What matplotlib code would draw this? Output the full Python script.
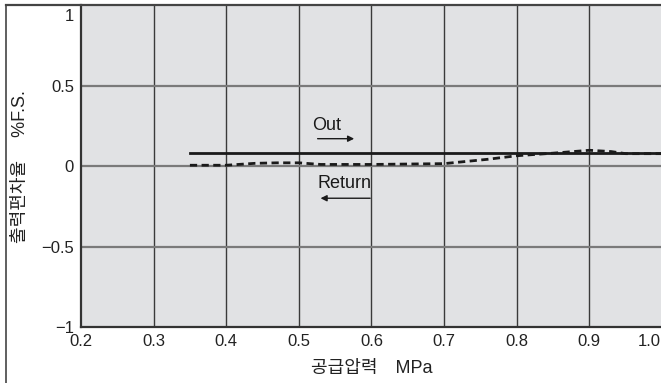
import matplotlib
matplotlib.use("Agg")
import matplotlib.pyplot as plt
import matplotlib.transforms as mtransforms
from matplotlib.lines import Line2D

plt.rcParams['font.family'] = ['Liberation Sans', 'Noto Sans CJK KR', 'DejaVu Sans']

# data
out_x = [0.35, 1.0]
out_y = [0.08, 0.08]
ret_x = [0.35, 0.40, 0.44, 0.47, 0.50, 0.53, 0.60, 0.70, 0.76, 0.80, 0.85, 0.90, 0.93, 0.95, 1.00]
ret_y = [0.005, 0.005, 0.017, 0.02, 0.02, 0.01, 0.01, 0.015, 0.042, 0.064, 0.08, 0.098, 0.09, 0.077, 0.077]
xticks = [0.2, 0.3, 0.4, 0.5, 0.6, 0.7, 0.8, 0.9, 1.0]
xlabels = ['0.2', '0.3', '0.4', '0.5', '0.6', '0.7', '0.8', '0.9', '1.0']
yticks = [-1, -0.5, 0, 0.5, 1]
ylabels = ['\u22121', '\u22120.5', '0', '0.5', '1']

fig = plt.figure(figsize=(6.61, 3.83), dpi=100)
ax = fig.add_axes([0.1225, 0.1462, 0.8790, 0.8405])
ax.set_facecolor('#e1e2e4')
ax.set_xlim(0.2, 1.0)
ax.set_ylim(-1, 1)

# grid
for x in xticks[1:]:
    ax.axvline(x, color='#3a3a3a', lw=1.0, zorder=1)
for y in [-0.5, 0, 0.5]:
    ax.axhline(y, color='#7a7a7a', lw=1.6, zorder=1)

ax.plot(out_x, out_y, color='#1a1a1a', lw=2.0, zorder=3)
ax.plot(ret_x, ret_y, color='#1a1a1a', lw=2.0, ls=(0, (2.6, 1.6)), zorder=3)

# annotations
ax.text(0.518, 0.255, 'Out', fontsize=13, ha='left', va='center', color='#1a1a1a')
ax.annotate('', xy=(0.58, 0.17), xytext=(0.522, 0.17),
            arrowprops=dict(arrowstyle='-|>', color='#1a1a1a', lw=1.0, mutation_scale=9))
ax.text(0.525, -0.11, 'Return', fontsize=13, ha='left', va='center', color='#1a1a1a')
ax.annotate('', xy=(0.526, -0.2), xytext=(0.602, -0.2),
            arrowprops=dict(arrowstyle='-|>', color='#1a1a1a', lw=1.0, mutation_scale=9))

ax.set_xticks(xticks)
ax.set_xticklabels(xlabels, fontsize=12, color='#222222')
ax.set_yticks(yticks)
ax.set_yticklabels(ylabels, fontsize=12, color='#222222')
ax.tick_params(length=0, pad=5)

# keep the end labels inside the picture, as in the reference
last_x = ax.get_xticklabels()[-1]
last_x.set_transform(last_x.get_transform() + mtransforms.ScaledTranslation(-0.13, 0, fig.dpi_scale_trans))
top_y = ax.get_yticklabels()[-1]
top_y.set_transform(top_y.get_transform() + mtransforms.ScaledTranslation(0, -0.1, fig.dpi_scale_trans))

for side in ['top', 'right']:
    ax.spines[side].set_visible(False)
for side in ['left', 'bottom']:
    ax.spines[side].set_color('#333333')
    ax.spines[side].set_linewidth(1.6)

ax.set_xlabel('공급압력　MPa', fontsize=13, color='#222222', labelpad=8)
fig.text(0.031, 0.565, '출력편차율　 %F.S.', rotation=90, fontsize=13, color='#222222',
         ha='center', va='center')

# outer frame (left and top)
fig.add_artist(Line2D([0.009, 0.009], [0, 0.987], transform=fig.transFigure, color='#444444', lw=1.2))
fig.add_artist(Line2D([0.009, 1.0], [0.987, 0.987], transform=fig.transFigure, color='#444444', lw=1.6))

fig.savefig('out.png', dpi=100)
